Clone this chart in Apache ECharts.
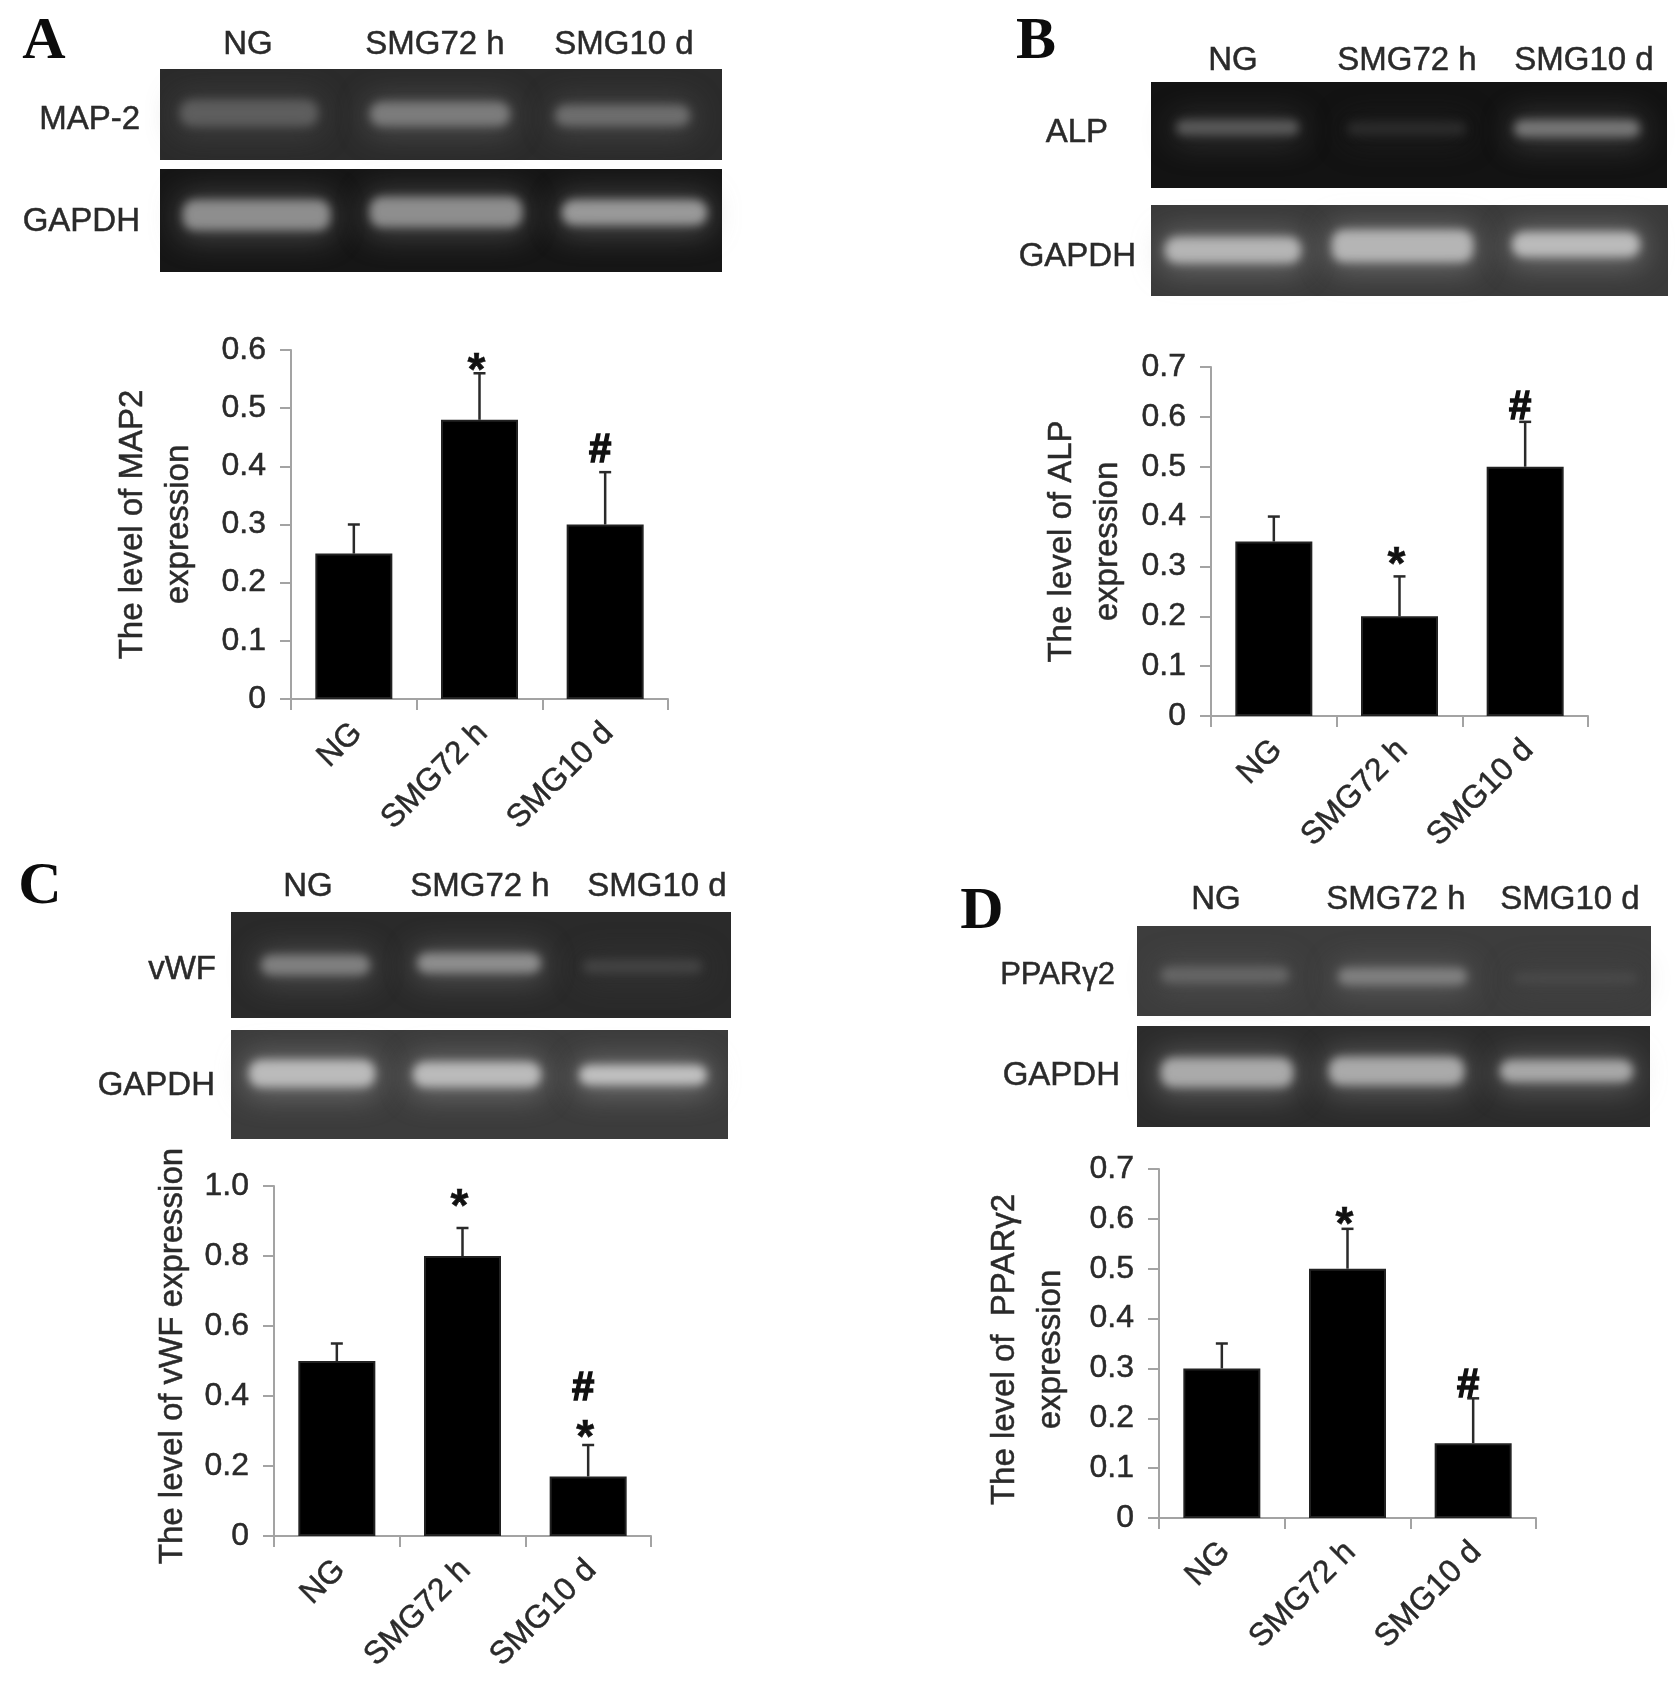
<!DOCTYPE html>
<html>
<head>
<meta charset="utf-8">
<style>html,body{margin:0;padding:0;background:#fff}#c{width:1680px;height:1684px}</style>
<script src="https://cdn.jsdelivr.net/npm/echarts@6/dist/echarts.min.js"></script>
</head>
<body>
<div id="c"></div>
<script>
// ---------- data ----------
const categories = ['NG', 'SMG72 h', 'SMG10 d'];
const meansA = [0.25, 0.48, 0.30];
const upperA = [0.30, 0.56, 0.39];
const meansB = [0.35, 0.20, 0.50];
const upperB = [0.40, 0.28, 0.59];
const meansC = [0.50, 0.80, 0.17];
const upperC = [0.55, 0.88, 0.26];
const meansD = [0.30, 0.50, 0.15];
const upperD = [0.35, 0.58, 0.24];
const marksA = [[1, 0.578, '*'], [2, 0.426, '#']];
const marksB = [[2, 0.618, '#'], [1, 0.32, '*']];
const marksC = [[1, 0.965, '*'], [2, 0.42, '#'], [2, 0.305, '*']];
const marksD = [[1, 0.605, '*'], [2, 0.265, '#']];
const axisNameA = 'The level of MAP2\nexpression';
const axisNameB = 'The level of ALP\nexpression';
const axisNameC = 'The level of vWF expression';
const axisNameD = 'The level of  PPARγ2\nexpression';

// ---------- layout ----------
const panels = [
  {m: meansA, u: upperA, k: marksA, name: axisNameA, max: 0.6, step: 0.1, x0: 291, x1: 668, y0: 350, y1: 699, gap: 89, pad: [0,0,0,0]},
  {m: meansB, u: upperB, k: marksB, name: axisNameB, max: 0.7, step: 0.1, x0: 1211, x1: 1588, y0: 367, y1: 716, gap: 80, pad: [0,0,0,0]},
  {m: meansC, u: upperC, k: marksC, name: axisNameC, max: 1.0, step: 0.2, x0: 274, x1: 651, y0: 1186, y1: 1536, gap: 78, pad: [0,0,0,10]},
  {m: meansD, u: upperD, k: marksD, name: axisNameD, max: 0.7, step: 0.1, x0: 1159, x1: 1536, y0: 1169, y1: 1518, gap: 85, pad: [0,12,0,0]}
];
// gel frame [x, y, w, h, bg], bands [x, y, w, h, colour]
const gels = [
  [[160, 69, 562, 91, '#2b2b2b'], [[180,100,138,26,'#5e5e5e'],[370,102,140,24,'#7c7c7c'],[555,105,135,21,'#6e6e6e']]],
  [[160, 169, 562, 103, '#161616'], [[183,200,147,30,'#8e8e8e'],[370,197,152,30,'#8e8e8e'],[562,200,145,25,'#999999']]],
  [[1151, 82, 516, 106, '#131313'], [[1176,120,123,15,'#5a5a5a'],[1347,122,119,13,'#2c2c2c'],[1514,120,126,17,'#777777']]],
  [[1151, 205, 517, 91, '#3a3a3a'], [[1165,237,136,26,'#b5b5b5'],[1332,230,141,32,'#b5b5b5'],[1512,232,128,25,'#bbbbbb']]],
  [[231, 912, 500, 106, '#2a2a2a'], [[261,955,109,20,'#808080'],[417,953,124,20,'#8e8e8e'],[583,960,119,13,'#444444']]],
  [[231, 1030, 497, 109, '#3c3c3c'], [[249,1060,126,27,'#bbbbbb'],[413,1062,128,25,'#bbbbbb'],[579,1065,128,20,'#c0c0c0']]],
  [[1137, 926, 514, 90, '#3d3d3d'], [[1161,967,128,16,'#666666'],[1338,968,129,17,'#808080'],[1514,973,123,10,'#4a4a4a']]],
  [[1137, 1026, 513, 101, '#2c2c2c'], [[1161,1058,132,29,'#aaaaaa'],[1329,1057,135,28,'#aaaaaa'],[1500,1060,133,22,'#a8a8a8']]]
];
// text: [string, x, y, align]
const gelLabels = [
  ['NG',248,45,'center'],['SMG72 h',435,45,'center'],['SMG10 d',624,45,'center'],
  ['MAP-2',140,120,'right'],['GAPDH',140,222,'right'],
  ['NG',1233,61,'center'],['SMG72 h',1407,61,'center'],['SMG10 d',1584,61,'center'],
  ['ALP',1108,133,'right'],['GAPDH',1136,257,'right'],
  ['NG',308,887,'center'],['SMG72 h',480,887,'center'],['SMG10 d',657,887,'center'],
  ['vWF',216,970,'right'],['GAPDH',215,1086,'right'],
  ['NG',1216,900,'center'],['SMG72 h',1396,900,'center'],['SMG10 d',1570,900,'center'],
  ['GAPDH',1120,1076,'right']
];
const panelLetters = [['A',44,42],['B',1036,42],['C',40,887],['D',982,912]];

const SANS = '"Liberation Sans", Arial, sans-serif';
const TEXT = '#2a2a2a', AXIS = '#a3a3a3';
const OFF = 3000; // shadow-only drawing: the rect sits off-canvas, only its blur lands on the gel

function blurRect(x, y, w, h, colour, blur, opacity) {
  return {type:'rect', silent:true, shape:{x:x-OFF, y, width:w, height:h, r:Math.min(12, h/2)},
    style:{fill:'#000', shadowBlur:blur, shadowColor:colour, shadowOffsetX:OFF, opacity}};
}

const graphicEls = [];
gels.forEach(([f, bands]) => {
  graphicEls.push({type:'rect', silent:true, shape:{x:f[0],y:f[1],width:f[2],height:f[3]}, style:{fill:f[4]}});
  bands.forEach(b => {
    graphicEls.push(blurRect(b[0]-4, b[1]-5, b[2]+8, b[3]+14, b[4], 30, 0.4));
    graphicEls.push(blurRect(b[0], b[1], b[2], b[3], b[4], 10, 1));
  });
});
gelLabels.forEach(t => graphicEls.push({type:'text', silent:true, style:{
  text:t[0], x:t[1], y:t[2], align:t[3], verticalAlign:'middle', font:'33px '+SANS, fill:TEXT, stroke:TEXT, lineWidth:0.5}}));
graphicEls.push({type:'text', silent:true, style:{
  text:'PPARγ2', x:1115, y:975, align:'right', verticalAlign:'middle', font:'31px '+SANS, fill:TEXT, stroke:TEXT, lineWidth:0.5}});
panelLetters.forEach(t => graphicEls.push({type:'text', silent:true, style:{
  text:t[0], x:t[1], y:t[2], align:'center', verticalAlign:'middle',
  font:'bold 60px "Liberation Serif", serif', fill:'#0c0c0c'}}));

const grids = [], xAxes = [], yAxes = [], series = [];
panels.forEach((p, i) => {
  grids.push({left:p.x0, top:p.y0, width:p.x1-p.x0, height:p.y1-p.y0, containLabel:false});
  xAxes.push({type:'category', gridIndex:i, data:categories,
    axisLine:{lineStyle:{color:AXIS,width:2}},
    axisTick:{show:true,length:11,lineStyle:{color:AXIS,width:2},alignWithLabel:false},
    axisLabel:{rotate:45,interval:0,margin:26,
      formatter:v => '{a|' + v + '}',
      rich:{a:{padding:[9,0,0,0],color:TEXT,fontSize:32,fontFamily:SANS,textBorderColor:TEXT,textBorderWidth:0.5}}}});
  yAxes.push({type:'value', gridIndex:i, min:0, max:p.max, interval:p.step,
    name:p.name, nameLocation:'middle', nameGap:p.gap, nameRotate:90,
    nameTextStyle:{color:TEXT,fontSize:33,fontFamily:SANS,lineHeight:46,padding:p.pad,
      textBorderColor:TEXT,textBorderWidth:0.5},
    splitLine:{show:false},
    axisLine:{show:true,lineStyle:{color:AXIS,width:2}},
    axisTick:{show:true,length:11,lineStyle:{color:AXIS,width:2}},
    axisLabel:{margin:25,color:TEXT,fontSize:32,fontFamily:SANS,
      textBorderColor:TEXT,textBorderWidth:0.5,
      formatter:v => v === 0 ? '0' : v.toFixed(1)}});
  series.push({type:'bar', xAxisIndex:i, yAxisIndex:i, data:p.m, barWidth:77, silent:true,
    itemStyle:{color:'#000',borderColor:'#222',borderWidth:2}, animation:false});
  series.push({type:'custom', xAxisIndex:i, yAxisIndex:i, silent:true, animation:false, z:1,
    data:p.u.map((u,j)=>[j,p.m[j],u]),
    renderItem:(params,api)=>{
      const bottom = api.coord([api.value(0), api.value(1)]);
      const top = api.coord([api.value(0), api.value(2)]);
      const ln = (x1,y1,x2,y2)=>({type:'line',shape:{x1,y1,x2,y2},style:{stroke:'#2a2a2a',lineWidth:2.5}});
      return {type:'group',children:[ln(top[0],bottom[1],top[0],top[1]),ln(top[0]-6,top[1],top[0]+6,top[1])]};
    }});
  series.push({type:'custom', xAxisIndex:i, yAxisIndex:i, silent:true, animation:false, z:5,
    data:p.k,
    renderItem:(params,api)=>{
      const c = api.coord([api.value(0), api.value(1)]);
      const ch = p.k[params.dataIndex][2];
      const star = ch === '*';
      return {type:'text',style:{text:ch,x:c[0]+(star?-3:-5),y:c[1]+(star?10:0),align:'center',verticalAlign:'middle',
        font:(star?'bold 46px ':'bold 40px ')+SANS,fill:'#111',stroke:'#111',lineWidth:star?0.5:1.5}};
    }});
});

const chart = echarts.init(document.getElementById('c'), null, {renderer:'canvas'});
chart.setOption({animation:false, backgroundColor:'#fff', grid:grids, xAxis:xAxes, yAxis:yAxes, series, graphic:{elements:graphicEls}});
</script>
</body>
</html>
